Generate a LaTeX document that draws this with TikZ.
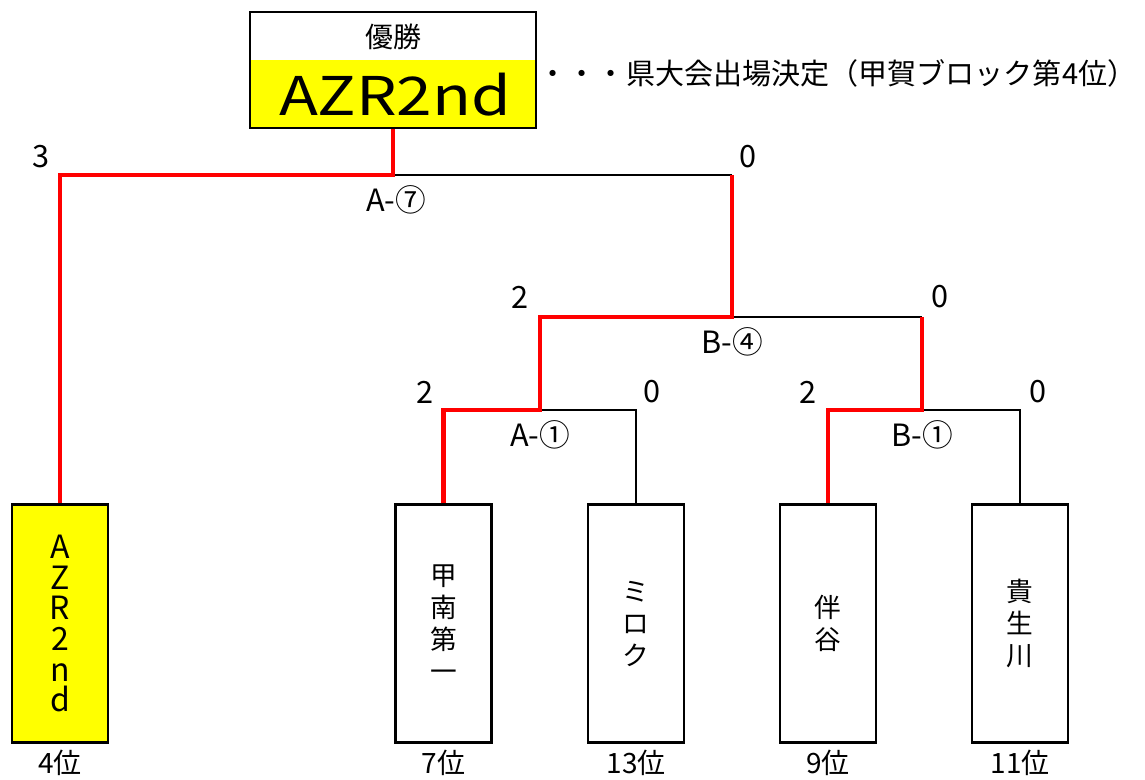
\documentclass[tikz,border=0pt]{standalone}
\usepackage[svgnames]{xcolor}
\usepackage{fontspec}
\setmainfont{Noto Sans CJK JP}
\usepackage{tikz}
\colorlet{winner}{red}
\definecolor{champ}{RGB}{255,255,0}

\begin{document}
\begin{tikzpicture}[
  x=0.75pt, y=-0.75pt,
  team/.style={draw, line width=2.2pt, minimum width=72pt, minimum height=178pt,
    inner sep=0pt, align=center, font=\fontsize{20}{24}\selectfont},
  win/.style={draw=winner, line width=3.7pt},
  lose/.style={draw, line width=1.6pt},
  score/.style={font=\fontsize{23}{26}\selectfont},
  game/.style={font=\fontsize{23}{26}\selectfont},
  rank/.style={font=\fontsize{21}{24}\selectfont}
]
\useasboundingbox (0,0) rectangle (1145,779);

% champion
\fill[champ] (250,60) rectangle (536,128);
\node[draw, line width=2.2pt, minimum width=214.5pt, minimum height=87pt] (W) at (393,70) {};
\node[font=\fontsize{21}{24}\selectfont] (W-1) at (393,37) {優勝};
\node[font=\fontsize{40}{42}\selectfont] (W-2) at (395,95) {\scalebox{1.2}[1]{AZR2nd}};
\node[anchor=east, font=\fontsize{21.8}{26}\selectfont] (W-3) at (1141,73) {・・・県大会出場決定（甲賀ブロック第4位）};

% teams
\node[team, fill=champ, font=\fontsize{24}{23}\selectfont] (T1) at (60,623.5) {A\\Z\\R\\2\\n\\d};
\node[team] (T2) at (443.5,623.5) {甲\\南\\第\\一};
\node[team] (T3) at (636,623.5) {ミ\\ロ\\ク};
\node[team] (T4) at (828,623.5) {伴\\谷};
\node[team] (T5) at (1020,623.5) {貴\\生\\川};
\node[rank] at (60,763) {4位};
\node[rank] at (443.5,763) {7位};
\node[rank] at (636,763) {13位};
\node[rank] at (828,763) {9位};
\node[rank] at (1020,763) {11位};

% games
\coordinate (A1) at (540,410);
\coordinate (B1) at (922,410);
\coordinate (B4) at (732,317);
\coordinate (A7) at (393,175);

\draw[lose] (A1) -| (T3.north);
\draw[lose] (B1) -| (T5.north);
\draw[lose] (B4) -- (B1 |- B4);
\draw[lose] (A7) -- (B4 |- A7);
\draw[win] (T2.north) |- (A1) |- (B4) -- (B4 |- A7);
\draw[win] (T4.north) |- (B1) -- (B1 |- B4);
\draw[win] (T1.north) |- (A7) -- (W.south);

\node[game] at (396,200) {A-⑦};
\node[game] at (732,342) {B-④};
\node[game] at (540,435) {A-①};
\node[game] at (922,435) {B-①};

\node[score] at (41,157) {3};
\node[score] at (748,157) {0};
\node[score] at (520,297) {2};
\node[score] at (940,297) {0};
\node[score] at (425,392) {2};
\node[score] at (652,392) {0};
\node[score] at (808,392) {2};
\node[score] at (1038,392) {0};
\end{tikzpicture}
\end{document}
